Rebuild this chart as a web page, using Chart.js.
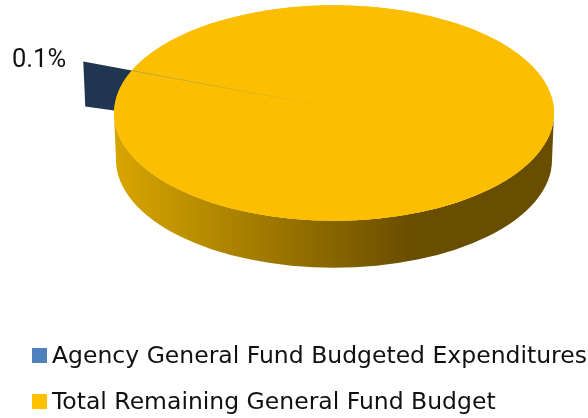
<!DOCTYPE html>
<html>
<head>
<meta charset="utf-8">
<script src="https://cdn.jsdelivr.net/npm/chart.js@4"></script>
<style>
  html, body { margin: 0; padding: 0; background: #fff; }
  #wrap { position: relative; width: 588px; height: 418px; overflow: hidden; }
  #legend { position: absolute; left: 32px; top: 332px; font: 23.5px "DejaVu Sans", sans-serif; color: #111; }
  #legend div { position: absolute; left: 0; white-space: nowrap; line-height: 46px; height: 46px; }
  #legend i { position: absolute; left: 0; top: 16px; width: 15px; height: 15px; }
  #legend span { position: absolute; left: 20px; top: 0; }
</style>
</head>
<body>
<div id="wrap">
  <canvas id="chart" width="588" height="418"></canvas>
  <div id="legend"></div>
</div>
<script>
const categories = ['Agency General Fund Budgeted Expenditures', 'Total Remaining General Fund Budget'];
const shares = [0.1, 99.9];
const shareLabels = ['0.1%'];
const legendColors = ['#4f81bd', '#ffc000'];

const squash = 0.49;
const depth = 47;
const sliceLift = 5;   // the small slice sits a bit above the pie centre
const sliceOut = 48;   // how far its wall sticks out past the rim

const pie3d = {
    id: 'pie3d',
    // draws the arcs itself (returns false), the wedge has to go above the big slice
    beforeDatasetDraw(chart, args) {
        const ctx = chart.ctx;
        const [slice, rest] = args.meta.data;
        const r = rest.outerRadius;

        // dark side wall of the pulled out slice
        const a = (slice.startAngle + slice.endAngle) / 2;
        const reach = slice.outerRadius + sliceOut;
        const startY = slice.y - sliceLift;
        const tipX = slice.x + Math.cos(a) * reach;
        const tipY = startY + Math.sin(a) * reach * squash;
        ctx.fillStyle = '#1f3550';
        ctx.beginPath();
        ctx.moveTo(slice.x, startY);
        ctx.lineTo(tipX, tipY);
        ctx.lineTo(tipX + 2, tipY + depth - 2);
        ctx.lineTo(slice.x, startY + depth * 0.7);
        ctx.closePath();
        ctx.fill();

        // rim of the big slice
        const grad = ctx.createLinearGradient(rest.x - r, 0, rest.x + r, 0);
        grad.addColorStop(0, '#d8a600');
        grad.addColorStop(0.68, '#694d00');
        grad.addColorStop(1, '#694d00');
        ctx.fillStyle = grad;
        ctx.beginPath();
        ctx.ellipse(rest.x, rest.y + depth, r - 2, r * squash, 0, 0, Math.PI);
        ctx.ellipse(rest.x, rest.y, r, r * squash, 0, Math.PI, 0, true);
        ctx.closePath();
        ctx.fill();

        // top face, filled first so the wedge gap does not show the rim
        ctx.fillStyle = rest.options.backgroundColor;
        ctx.beginPath();
        ctx.ellipse(rest.x, rest.y, r, r * squash, 0, 0, Math.PI * 2);
        ctx.fill();

        ctx.save();
        ctx.translate(0, rest.y);
        ctx.scale(1, squash);
        ctx.translate(0, -rest.y);
        rest.draw(ctx);
        ctx.translate(0, -sliceLift / squash);
        ctx.globalAlpha = 0.45;
        slice.draw(ctx);
        ctx.restore();

        ctx.fillStyle = '#111';
        ctx.font = '25.5px Roboto, sans-serif';
        ctx.textAlign = 'left';
        ctx.textBaseline = 'alphabetic';
        ctx.fillText(shareLabels[0], 12, 67);
        return false;
    }
};

new Chart(document.getElementById('chart'), {
    type: 'pie',
    data: {
        labels: categories,
        datasets: [{
            data: shares,
            backgroundColor: ['#4f81bd', '#fbbe00'],
            borderWidth: 0,
            radius: 220,
            clip: false
        }]
    },
    options: {
        responsive: false,
        animation: false,
        rotation: 290.5,
        layout: { padding: { left: 80, bottom: 192 } },
        plugins: {
            legend: { display: false },
            tooltip: { enabled: false }
        }
    },
    plugins: [pie3d]
});

const legend = document.getElementById('legend');
categories.forEach((name, i) => {
    const row = document.createElement('div');
    row.style.top = (i * 46) + 'px';
    row.innerHTML = '<i style="background:' + legendColors[i] + '"></i><span>' + name + '</span>';
    legend.appendChild(row);
});
</script>
</body>
</html>
